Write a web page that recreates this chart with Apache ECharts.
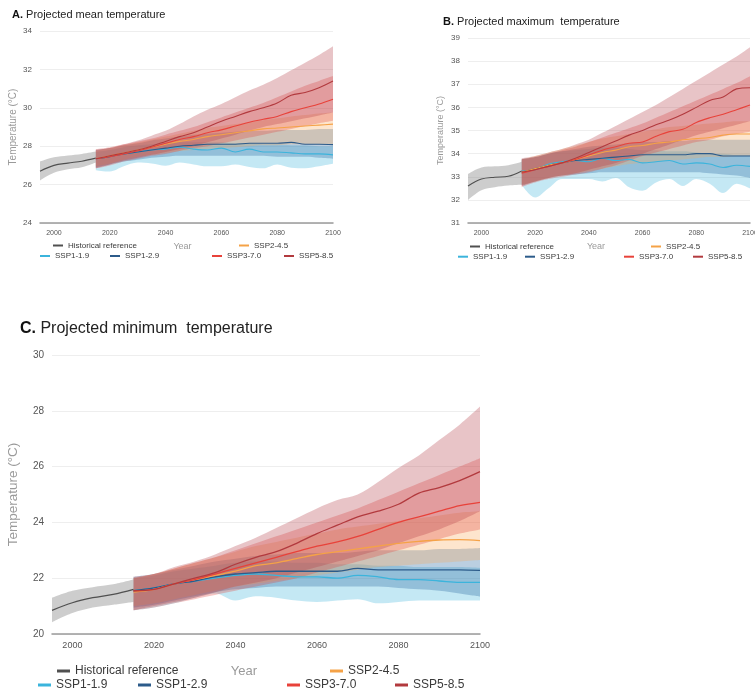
<!DOCTYPE html>
<html>
<head>
<meta charset="utf-8">
<script src="https://cdn.jsdelivr.net/npm/echarts@6/dist/echarts.min.js"></script>
<style>
  html, body { margin: 0; padding: 0; background: #fff; }
  #chart { width: 755px; height: 693px; }
</style>
</head>
<body>
<div id="chart"></div>
<script>
// 年份（类目轴，每 5 年一个点）
const yearCategories = [1995, 2000, 2005, 2010, 2015, 2020, 2025, 2030, 2035, 2040, 2045, 2050, 2055, 2060, 2065, 2070, 2075, 2080, 2085, 2090, 2095, 2100];
const histYears = [1995, 2000, 2005, 2010, 2015];
const projYears = [2015, 2020, 2025, 2030, 2035, 2040, 2045, 2050, 2055, 2060, 2065, 2070, 2075, 2080, 2085, 2090, 2095, 2100];
const xTickValues = [2000, 2020, 2040, 2060, 2080, 2100];

// A. 平均温度
const meanHistMid  = [26.7, 27.0, 27.12, 27.22, 27.38];
const meanHistLow  = [26.22, 26.62, 26.8, 26.9, 27.15];
const meanHistHigh = [27.2, 27.42, 27.52, 27.6, 27.72];
const meanSsp119Mid  = [27.35, 27.45, 27.6, 27.7, 27.8, 27.85, 27.95, 27.85, 27.8, 27.9, 27.7, 27.85, 27.7, 27.7, 27.65, 27.6, 27.6, 27.55];
const meanSsp119Low  = [26.75, 26.68, 26.95, 27.15, 27.1, 26.98, 27.15, 27.05, 26.95, 26.95, 27.05, 26.92, 26.85, 27.05, 26.88, 26.85, 26.95, 27.08];
const meanSsp119High = [27.7, 27.8, 27.95, 28.05, 28.1, 28.15, 28.2, 28.2, 28.2, 28.2, 28.15, 28.15, 28.1, 28.1, 28.05, 28.05, 28.0, 28.0];
const meanSsp126Mid  = [27.35, 27.45, 27.6, 27.7, 27.8, 27.9, 28.0, 28.05, 28.1, 28.1, 28.1, 28.15, 28.15, 28.15, 28.2, 28.1, 28.1, 28.08];
const meanSsp126Low  = [26.9, 27.05, 27.2, 27.3, 27.4, 27.45, 27.5, 27.5, 27.5, 27.5, 27.5, 27.5, 27.5, 27.45, 27.45, 27.45, 27.4, 27.35];
const meanSsp126High = [27.8, 27.9, 28.05, 28.15, 28.3, 28.4, 28.5, 28.6, 28.65, 28.7, 28.75, 28.8, 28.8, 28.85, 28.85, 28.85, 28.9, 28.9];
const meanSsp245Mid  = [27.35, 27.5, 27.65, 27.8, 27.95, 28.1, 28.25, 28.35, 28.5, 28.6, 28.7, 28.8, 28.9, 28.95, 29.0, 29.05, 29.1, 29.15];
const meanSsp245Low  = [26.95, 27.1, 27.3, 27.45, 27.55, 27.65, 27.75, 27.8, 27.85, 27.9, 27.95, 28.0, 28.05, 28.05, 28.1, 28.1, 28.1, 28.1];
const meanSsp245High = [27.75, 27.9, 28.05, 28.2, 28.35, 28.5, 28.65, 28.8, 28.95, 29.05, 29.15, 29.25, 29.35, 29.45, 29.55, 29.62, 29.7, 29.75];
const meanSsp370Mid  = [27.35, 27.45, 27.6, 27.75, 27.95, 28.15, 28.35, 28.5, 28.7, 28.85, 29.05, 29.25, 29.4, 29.55, 29.8, 30.0, 30.2, 30.45];
const meanSsp370Low  = [26.85, 27.0, 27.2, 27.35, 27.5, 27.6, 27.75, 27.9, 28.0, 28.15, 28.3, 28.45, 28.6, 28.75, 28.9, 29.05, 29.2, 29.33];
const meanSsp370High = [27.85, 27.95, 28.1, 28.25, 28.4, 28.6, 28.8, 29.0, 29.25, 29.5, 29.75, 30.0, 30.25, 30.55, 30.85, 31.15, 31.4, 31.65];
const meanSsp585Mid  = [27.35, 27.5, 27.65, 27.8, 28.0, 28.25, 28.5, 28.7, 29.0, 29.3, 29.55, 29.8, 30.0, 30.25, 30.65, 30.8, 31.05, 31.4];
const meanSsp585Low  = [26.85, 27.05, 27.25, 27.4, 27.55, 27.7, 27.85, 28.0, 28.2, 28.4, 28.6, 28.8, 29.0, 29.15, 29.3, 29.45, 29.6, 29.75];
const meanSsp585High = [27.8, 27.9, 28.1, 28.3, 28.55, 28.8, 29.15, 29.55, 29.9, 30.2, 30.55, 30.9, 31.2, 31.55, 31.95, 32.35, 32.75, 33.2];

// B. 最高温度
const maxHistMid  = [32.6, 32.9, 32.98, 33.02, 33.25];
const maxHistLow  = [32.0, 32.42, 32.55, 32.62, 32.65];
const maxHistHigh = [33.12, 33.4, 33.45, 33.5, 33.65];
const maxSsp119Mid  = [33.25, 33.3, 33.55, 33.65, 33.7, 33.65, 33.8, 33.7, 33.75, 33.6, 33.65, 33.7, 33.55, 33.6, 33.55, 33.4, 33.5, 33.45];
const maxSsp119Low  = [32.65, 32.1, 32.5, 32.9, 32.9, 32.9, 32.8, 32.95, 32.55, 32.4, 32.75, 32.9, 32.6, 32.9, 32.7, 32.3, 32.7, 32.5];
const maxSsp119High = [33.75, 33.85, 34.0, 34.1, 34.15, 34.2, 34.25, 34.25, 34.2, 34.15, 34.15, 34.1, 34.1, 34.05, 34.0, 34.0, 33.95, 33.95];
const maxSsp126Mid  = [33.2, 33.35, 33.5, 33.6, 33.7, 33.75, 33.8, 33.85, 33.9, 33.95, 33.95, 33.95, 33.95, 34.0, 34.0, 33.9, 33.9, 33.9];
const maxSsp126Low  = [32.65, 32.8, 32.95, 33.05, 33.1, 33.15, 33.2, 33.2, 33.2, 33.2, 33.2, 33.2, 33.2, 33.2, 33.15, 33.1, 33.05, 32.95];
const maxSsp126High = [33.75, 33.85, 34.0, 34.1, 34.2, 34.3, 34.35, 34.4, 34.45, 34.5, 34.5, 34.55, 34.55, 34.6, 34.6, 34.6, 34.6, 34.6];
const maxSsp245Mid  = [33.2, 33.35, 33.5, 33.6, 33.75, 33.9, 34.05, 34.15, 34.3, 34.35, 34.45, 34.5, 34.6, 34.65, 34.7, 34.8, 34.85, 34.85];
const maxSsp245Low  = [32.65, 32.8, 32.95, 33.05, 33.15, 33.25, 33.35, 33.45, 33.55, 33.6, 33.65, 33.7, 33.75, 33.8, 33.85, 33.85, 33.9, 33.9];
const maxSsp245High = [33.75, 33.9, 34.05, 34.2, 34.35, 34.5, 34.65, 34.75, 34.85, 34.95, 35.05, 35.15, 35.2, 35.25, 35.3, 35.35, 35.4, 35.4];
const maxSsp370Mid  = [33.15, 33.3, 33.45, 33.6, 33.75, 33.95, 34.15, 34.3, 34.45, 34.5, 34.75, 34.95, 35.05, 35.35, 35.55, 35.7, 35.9, 36.1];
const maxSsp370Low  = [32.55, 32.75, 32.9, 33.0, 33.1, 33.2, 33.35, 33.5, 33.7, 33.9, 34.05, 34.2, 34.35, 34.5, 34.6, 34.75, 34.85, 34.95];
const maxSsp370High = [33.75, 33.85, 34.0, 34.15, 34.3, 34.5, 34.7, 34.9, 35.1, 35.3, 35.55, 35.8, 36.05, 36.3, 36.55, 36.8, 37.05, 37.35];
const maxSsp585Mid  = [33.2, 33.3, 33.45, 33.6, 33.8, 34.05, 34.3, 34.55, 34.8, 35.0, 35.25, 35.45, 35.7, 36.0, 36.3, 36.45, 36.8, 36.85];
const maxSsp585Low  = [32.6, 32.8, 32.95, 33.05, 33.15, 33.3, 33.45, 33.6, 33.8, 34.0, 34.2, 34.4, 34.6, 34.8, 34.95, 35.1, 35.25, 35.4];
const maxSsp585High = [33.8, 33.9, 34.05, 34.2, 34.4, 34.6, 34.9, 35.2, 35.5, 35.8, 36.1, 36.45, 36.8, 37.15, 37.5, 37.85, 38.2, 38.6];

// C. 最低温度
const minHistMid  = [20.85, 21.12, 21.3, 21.42, 21.6];
const minHistLow  = [20.42, 20.75, 20.95, 21.05, 21.15];
const minHistHigh = [21.3, 21.55, 21.68, 21.78, 21.95];
const minSsp119Mid  = [21.55, 21.65, 21.8, 21.9, 22.0, 22.1, 22.15, 22.1, 22.05, 22.05, 22.0, 22.1, 22.05, 21.95, 21.95, 21.9, 21.85, 21.85];
const minSsp119Low  = [20.85, 20.95, 21.1, 21.3, 21.45, 21.2, 21.35, 21.3, 21.2, 21.15, 21.2, 21.25, 21.1, 21.15, 21.2, 21.2, 21.2, 21.2];
const minSsp119High = [22.0, 22.1, 22.25, 22.35, 22.45, 22.55, 22.6, 22.6, 22.55, 22.55, 22.5, 22.5, 22.45, 22.45, 22.4, 22.4, 22.4, 22.37];
const minSsp126Mid  = [21.55, 21.65, 21.8, 21.9, 22.05, 22.15, 22.2, 22.25, 22.25, 22.25, 22.25, 22.35, 22.3, 22.3, 22.3, 22.3, 22.3, 22.28];
const minSsp126Low  = [20.95, 21.05, 21.2, 21.35, 21.5, 21.6, 21.65, 21.7, 21.7, 21.7, 21.7, 21.7, 21.7, 21.65, 21.6, 21.55, 21.45, 21.34];
const minSsp126High = [22.05, 22.15, 22.3, 22.45, 22.6, 22.7, 22.8, 22.85, 22.9, 22.9, 22.9, 22.95, 23.0, 23.0, 23.0, 23.05, 23.05, 23.08];
const minSsp245Mid  = [21.5, 21.6, 21.8, 21.95, 22.1, 22.25, 22.45, 22.55, 22.7, 22.85, 22.95, 23.05, 23.15, 23.25, 23.32, 23.37, 23.38, 23.35];
const minSsp245Low  = [21.0, 21.1, 21.25, 21.4, 21.55, 21.7, 21.8, 21.9, 22.0, 22.1, 22.2, 22.3, 22.4, 22.45, 22.5, 22.55, 22.6, 22.65];
const minSsp245High = [22.0, 22.15, 22.35, 22.55, 22.75, 22.95, 23.15, 23.3, 23.45, 23.6, 23.75, 23.85, 23.95, 24.05, 24.15, 24.25, 24.35, 24.4];
const minSsp370Mid  = [21.55, 21.6, 21.8, 21.95, 22.15, 22.35, 22.55, 22.75, 22.95, 23.15, 23.3, 23.5, 23.75, 24.0, 24.2, 24.4, 24.6, 24.72];
const minSsp370Low  = [20.85, 20.95, 21.1, 21.25, 21.4, 21.55, 21.7, 21.85, 22.0, 22.2, 22.4, 22.6, 22.8, 23.0, 23.2, 23.4, 23.6, 23.75];
const minSsp370High = [22.0, 22.15, 22.35, 22.55, 22.75, 23.0, 23.25, 23.5, 23.75, 24.0, 24.25, 24.5, 24.8, 25.1, 25.4, 25.7, 26.0, 26.3];
const minSsp585Mid  = [21.55, 21.6, 21.8, 22.0, 22.2, 22.5, 22.75, 22.95, 23.25, 23.6, 23.9, 24.2, 24.4, 24.65, 25.05, 25.25, 25.5, 25.82];
const minSsp585Low  = [20.85, 21.0, 21.15, 21.3, 21.5, 21.7, 21.85, 22.0, 22.2, 22.4, 22.6, 22.8, 23.0, 23.25, 23.5, 23.75, 24.05, 24.4];
const minSsp585High = [22.05, 22.15, 22.4, 22.6, 22.85, 23.15, 23.45, 23.8, 24.15, 24.5, 24.8, 25.0, 25.45, 25.95, 26.4, 26.95, 27.5, 28.15];

// 情景名称与颜色
const histName = 'Historical reference';
const scenarioNames = ['SSP1-1.9', 'SSP1-2.9', 'SSP2-4.5', 'SSP3-7.0', 'SSP5-8.5'];
const lineColors = ['#3bb4dc', '#2c5b8a', '#f5a247', '#e8423a', '#b23a3e'];
const bandColors = ['rgba(60,180,220,0.3)', 'rgba(50,110,165,0.33)', 'rgba(250,170,90,0.3)', 'rgba(225,65,60,0.3)', 'rgba(180,60,70,0.3)'];
const histLineColor = '#505050';
const histBandColor = 'rgba(130,130,130,0.4)';

const FONT = 'Liberation Sans, Arial, sans-serif';

const panels = [
    {
        hist: [meanHistLow, meanHistMid, meanHistHigh],
        ssp: [
            [meanSsp119Low, meanSsp119Mid, meanSsp119High],
            [meanSsp126Low, meanSsp126Mid, meanSsp126High],
            [meanSsp245Low, meanSsp245Mid, meanSsp245High],
            [meanSsp370Low, meanSsp370Mid, meanSsp370High],
            [meanSsp585Low, meanSsp585Mid, meanSsp585High]
        ]
    },
    {
        hist: [maxHistLow, maxHistMid, maxHistHigh],
        ssp: [
            [maxSsp119Low, maxSsp119Mid, maxSsp119High],
            [maxSsp126Low, maxSsp126Mid, maxSsp126High],
            [maxSsp245Low, maxSsp245Mid, maxSsp245High],
            [maxSsp370Low, maxSsp370Mid, maxSsp370High],
            [maxSsp585Low, maxSsp585Mid, maxSsp585High]
        ]
    },
    {
        hist: [minHistLow, minHistMid, minHistHigh],
        ssp: [
            [minSsp119Low, minSsp119Mid, minSsp119High],
            [minSsp126Low, minSsp126Mid, minSsp126High],
            [minSsp245Low, minSsp245Mid, minSsp245High],
            [minSsp370Low, minSsp370Mid, minSsp370High],
            [minSsp585Low, minSsp585Mid, minSsp585High]
        ]
    }
];

// 按类目对齐，缺失年份用 '-'
function alignTo(years, values) {
    return yearCategories.map(y => {
        const i = years.indexOf(y);
        return i < 0 ? '-' : values[i];
    });
}

// 带状区间：下界透明 + 堆叠差值
function bandSeries(g, key, years, low, high, color) {
    const stack = 'band-' + g + '-' + key;
    return [
        {
            type: 'line', name: key + ' low', xAxisIndex: g, yAxisIndex: g,
            data: alignTo(years, low), stack: stack, smooth: 0.35,
            symbol: 'none', silent: true, lineStyle: { opacity: 0 }, z: 1
        },
        {
            type: 'line', name: key + ' band', xAxisIndex: g, yAxisIndex: g,
            data: alignTo(years, low.map((v, i) => +(high[i] - v).toFixed(3))),
            stack: stack, smooth: 0.35, symbol: 'none', silent: true,
            lineStyle: { opacity: 0 }, areaStyle: { color: color, opacity: 1 }, z: 1
        }
    ];
}

function medianSeries(g, name, years, mid, color, width) {
    return {
        type: 'line', name: name, xAxisIndex: g, yAxisIndex: g,
        data: alignTo(years, mid), smooth: 0.35, symbol: 'none', color: color,
        lineStyle: { color: color, width: width }, z: 3
    };
}

function panelSeries(g, panel, width) {
    let out = [];
    out = out.concat(bandSeries(g, 'hist', histYears, panel.hist[0], panel.hist[2], histBandColor));
    panel.ssp.forEach((s, i) => {
        out = out.concat(bandSeries(g, scenarioNames[i], projYears, s[0], s[2], bandColors[i]));
    });
    out.push(medianSeries(g, histName, histYears, panel.hist[1], histLineColor, width));
    panel.ssp.forEach((s, i) => {
        out.push(medianSeries(g, scenarioNames[i], projYears, s[1], lineColors[i], width));
    });
    return out;
}

// 单项图例
function legendAt(name, left, top, w, h, size) {
    return {
        data: [name], left: left, top: top, padding: 0, icon: 'rect',
        itemWidth: w, itemHeight: h, itemGap: 0,
        textStyle: { fontSize: size, color: '#3a3a3a', fontFamily: FONT }
    };
}

function panelLegends(pos, w, h, size) {
    const names = [histName, 'SSP2-4.5', 'SSP1-1.9', 'SSP1-2.9', 'SSP3-7.0', 'SSP5-8.5'];
    return names.map((n, i) => legendAt(n, pos[i][0], pos[i][1], w, h, size));
}

function xAxisFor(g, labelSize, nameSize, nameGap, shift) {
    return {
        type: 'category', gridIndex: g, boundaryGap: false,
        data: yearCategories.map(String),
        name: 'Year', nameLocation: 'middle', nameGap: nameGap,
        nameTextStyle: { color: '#9a9a9a', fontSize: nameSize, fontFamily: FONT, padding: [0, shift * 2, 0, 0] },
        axisLine: { show: true, lineStyle: { color: '#9a9a9a', width: 1.5 } },
        axisTick: { show: false },
        splitLine: { show: false },
        axisLabel: {
            interval: (idx, val) => xTickValues.indexOf(+val) >= 0,
            color: '#555', fontSize: labelSize, fontFamily: FONT, margin: 7
        }
    };
}

function yAxisFor(g, min, max, interval, labelSize, nameSize, nameGap) {
    return {
        type: 'value', gridIndex: g, min: min, max: max, interval: interval,
        name: 'Temperature (°C)', nameLocation: 'middle', nameGap: nameGap,
        nameTextStyle: { color: '#9a9a9a', fontSize: nameSize, fontFamily: FONT },
        axisLine: { show: false }, axisTick: { show: false },
        splitLine: { show: true, lineStyle: { color: '#eeeeee', width: 1 } },
        axisLabel: { color: '#555', fontSize: labelSize, fontFamily: FONT, margin: 8 }
    };
}

function titleAt(letter, text, left, top, size) {
    return {
        text: '{b|' + letter + '}' + text, left: left, top: top, padding: 0,
        textStyle: {
            fontSize: size, fontWeight: 'normal', color: '#222', fontFamily: FONT,
            rich: { b: { fontSize: size, fontWeight: 'bold', color: '#111', fontFamily: FONT } }
        }
    };
}

document.addEventListener('DOMContentLoaded', () => {
    const chart = echarts.init(document.getElementById('chart'), null, { renderer: 'canvas' });

    const legends = []
        .concat(panelLegends([[53, 241.5], [239, 241.5], [40, 252], [110, 252], [212, 252], [284, 252]], 10, 2, 8))
        .concat(panelLegends([[470, 242.5], [651, 242.5], [458, 252.7], [525, 252.7], [624, 252.7], [693, 252.7]], 10, 2, 8))
        .concat(panelLegends([[57, 665], [330, 665], [38, 679], [138, 679], [287, 679], [395, 679]], 13, 3, 12));

    const option = {
        animation: false,
        backgroundColor: '#fff',
        title: [
            titleAt('A.', ' Projected mean temperature', 12, 9, 11),
            titleAt('B.', ' Projected maximum  temperature', 443, 16, 11),
            titleAt('C.', ' Projected minimum  temperature', 20, 321, 16)
        ],
        legend: legends,
        grid: [
            { left: 40, top: 31, width: 293, height: 192, outerBoundsMode: 'none' },
            { left: 468, top: 38, width: 282, height: 185, outerBoundsMode: 'none' },
            { left: 52, top: 355, width: 428, height: 279, outerBoundsMode: 'none' }
        ],
        xAxis: [
            xAxisFor(0, 7, 9, 19, 4),
            xAxisFor(1, 7, 9, 19, 13),
            xAxisFor(2, 9, 13, 31, 22)
        ],
        yAxis: [
            yAxisFor(0, 24, 34, 2, 8, 10, 22),
            yAxisFor(1, 31, 39, 1, 8, 9, 23),
            yAxisFor(2, 20, 30, 2, 10, 13.5, 32)
        ],
        series: []
            .concat(panelSeries(0, panels[0], 1.1))
            .concat(panelSeries(1, panels[1], 1.1))
            .concat(panelSeries(2, panels[2], 1.3))
    };

    chart.setOption(option);
    window.addEventListener('resize', () => chart.resize());
});
</script>
</body>
</html>
